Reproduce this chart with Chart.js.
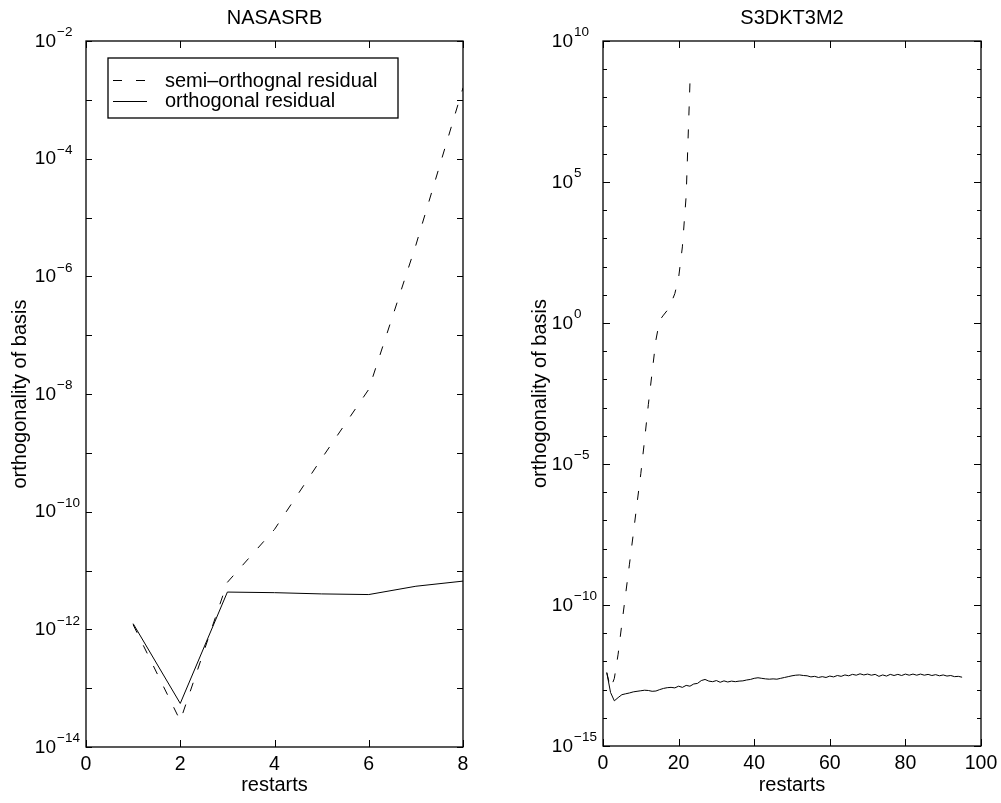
<!DOCTYPE html>
<html><head><meta charset="utf-8">
<script src="https://cdn.jsdelivr.net/npm/chart.js@4.4.0/dist/chart.umd.min.js"></script>
<style>
html,body{margin:0;padding:0;background:#fff;}
#wrap{position:relative;width:1001px;height:803px;overflow:hidden;background:#fff;}
canvas{position:absolute;top:0;}
#c1{left:0;} #c2{left:500px;}
</style></head><body>
<div id="wrap"><canvas id="c1" width="500" height="803"></canvas><canvas id="c2" width="501" height="803"></canvas></div>
<script>
const FONT = "'Liberation Sans', Arial, Helvetica, sans-serif";

// ---- texts ----
const leftTitle = 'NASASRB';
const rightTitle = 'S3DKT3M2';
const seriesNames = ['semi\u2013orthognal residual', 'orthogonal residual'];
const xTitle = 'restarts';
const yTitle = 'orthogonality of basis';

// ---- left panel data ----
const leftX = [1, 2, 3, 4, 5, 6, 7, 8];
const leftSemi = [1.2e-12, 2.8e-14, 6.3e-12, 5.0e-11, 8.0e-10, 1.2e-8, 3.4e-6, 1.6e-3];
const leftOrth = [1.25e-12, 5.5e-14, 4.3e-12, 4.2e-12, 4.0e-12, 3.9e-12, 5.4e-12, 6.6e-12];

// ---- right panel data ----
const rightSemiX = [1,2,3,4,5,6,7,8,9,10,11,12,13,14,15,16,17,18,19,20,21,22,23];
const rightSemi = [4.0e-13, 1.1e-13, 2.5e-13, 1.8e-12, 2.2e-11, 2.5e-10, 2.8e-9, 3.2e-8, 4.0e-7, 4.5e-6,
  7.1e-5, 1.3e-3, 1.8e-2, 2.5e-1, 1.26, 1.9, 2.8, 5.0, 11, 40, 5.0e2, 3.2e4, 3.2e8];
const rightOrthX = [1,2,3,4,5,6,7,8,9,10,11,12,13,14,15,16,17,18,19,20,
  21,22,23,24,25,26,27,28,29,30,31,32,33,34,35,36,37,38,39,40,
  41,42,43,44,45,46,47,48,49,50,51,52,53,54,55,56,57,58,59,60,
  61,62,63,64,65,66,67,68,69,70,71,72,73,74,75,76,77,78,79,80,
  81,82,83,84,85,86,87,88,89,90,91,92,93,94,95];
const rightOrth = [4.0e-13, 7.9e-14, 4.0e-14, 5.2e-14, 6.6e-14, 7.1e-14, 7.6e-14, 8.3e-14, 8.7e-14, 9.1e-14,
  9.5e-14, 9.3e-14, 8.7e-14, 8.9e-14, 1.0e-13, 1.10e-13, 1.17e-13, 1.20e-13, 1.15e-13, 1.32e-13,
  1.20e-13, 1.41e-13, 1.32e-13, 1.58e-13, 1.66e-13, 2.09e-13, 2.29e-13, 2.0e-13, 1.91e-13, 2.09e-13,
  1.82e-13, 2.04e-13, 1.86e-13, 2.0e-13, 1.91e-13, 2.0e-13, 2.04e-13, 2.19e-13, 2.29e-13, 2.51e-13,
  2.63e-13, 2.51e-13, 2.40e-13, 2.34e-13, 2.40e-13, 2.34e-13, 2.51e-13, 2.69e-13, 2.88e-13, 3.09e-13,
  3.24e-13, 3.31e-13, 3.16e-13, 3.09e-13, 2.82e-13, 2.95e-13, 2.69e-13, 2.88e-13, 2.69e-13, 3.02e-13,
  2.82e-13, 3.16e-13, 2.95e-13, 3.31e-13, 3.09e-13, 3.47e-13, 3.24e-13, 3.63e-13, 3.31e-13, 3.55e-13,
  3.24e-13, 3.47e-13, 2.95e-13, 3.31e-13, 3.02e-13, 3.47e-13, 3.16e-13, 3.47e-13, 3.16e-13, 3.55e-13,
  3.24e-13, 3.55e-13, 3.24e-13, 3.55e-13, 3.24e-13, 3.47e-13, 3.16e-13, 3.39e-13, 3.09e-13, 3.31e-13,
  3.02e-13, 3.16e-13, 2.88e-13, 2.95e-13, 2.75e-13];

// ---- ticks ----
const leftXTicks = [0, 2, 4, 6, 8];
const rightXTicks = [0, 20, 40, 60, 80, 100];
const leftYDecades = [-14, -13, -12, -11, -10, -9, -8, -7, -6, -5, -4, -3, -2];
const leftYLabelExps = [-14, -12, -10, -8, -6, -4, -2];
const rightYDecades = [-15,-14,-13,-12,-11,-10,-9,-8,-7,-6,-5,-4,-3,-2,-1,0,1,2,3,4,5,6,7,8,9,10];
const rightYLabelExps = [-15, -10, -5, 0, 5, 10];

function framePlugin(o) {
  return {
    id: 'frame',
    afterDraw(chart) {
      const ctx = chart.ctx, a = chart.chartArea, x = chart.scales.x, y = chart.scales.y;
      ctx.save();
      ctx.strokeStyle = '#000';
      ctx.lineWidth = 1.3;
      ctx.setLineDash([]);
      ctx.strokeRect(a.left, a.top, a.right - a.left, a.bottom - a.top);
      ctx.lineWidth = 1;
      ctx.beginPath();
      o.xTicks.forEach(v => {
        const px = Math.round(x.getPixelForValue(v)) + 0.5;
        ctx.moveTo(px, a.bottom); ctx.lineTo(px, a.bottom - 7);
        ctx.moveTo(px, a.top); ctx.lineTo(px, a.top + 7);
      });
      o.yDecades.forEach(e => {
        const py = Math.round(y.getPixelForValue(Math.pow(10, e))) + 0.5;
        const len = o.yLabelExps.includes(e) ? o.majorLen : o.minorLen;
        ctx.moveTo(a.left, py); ctx.lineTo(a.left + len, py);
        ctx.moveTo(a.right, py); ctx.lineTo(a.right - len, py);
      });
      ctx.stroke();
      ctx.fillStyle = '#000';
      o.yLabelExps.forEach(e => {
        const py = y.getPixelForValue(Math.pow(10, e));
        ctx.font = '19px ' + FONT;
        ctx.textAlign = 'right'; ctx.textBaseline = 'middle';
        ctx.fillText('10', a.left - 30, py + 0.5);
        ctx.font = '13.5px ' + FONT;
        ctx.textAlign = 'left';
        ctx.fillText(e < 0 ? '\u2212' + (-e) : String(e), a.left - 29, py - 8.5);
      });
      if (o.legend) {
        const L = o.legend;
        ctx.fillStyle = '#fff';
        ctx.fillRect(L.x, L.y, L.w, L.h);
        ctx.lineWidth = 1.3;
        ctx.strokeRect(L.x, L.y, L.w, L.h);
        ctx.lineWidth = 1;
        chart.data.datasets.forEach((ds, i) => {
          const ry = L.rows[i];
          ctx.setLineDash(ds.borderDash || []);
          ctx.beginPath();
          ctx.moveTo(L.lineX0, Math.round(ry) + 0.5);
          ctx.lineTo(L.lineX1, Math.round(ry) + 0.5);
          ctx.stroke();
          ctx.setLineDash([]);
          ctx.fillStyle = '#000';
          ctx.font = '20px ' + FONT;
          ctx.textAlign = 'left'; ctx.textBaseline = 'middle';
          ctx.fillText(ds.label, L.textX, ry + 1);
        });
      }
      ctx.restore();
    }
  };
}

function makeChart(el, o) {
  return new Chart(el, {
    type: 'line',
    data: {
      datasets: [
        { label: seriesNames[0], data: o.semiX.map((v, i) => ({ x: v, y: o.semi[i] })),
          borderColor: '#000', borderWidth: 1, borderDash: [9, 14], pointRadius: 0, fill: false, tension: 0,
          xAxisID: 'x', yAxisID: 'y' },
        { label: seriesNames[1], data: o.orthX.map((v, i) => ({ x: v, y: o.orth[i] })),
          borderColor: '#000', borderWidth: 1, pointRadius: 0, fill: false, tension: 0,
          xAxisID: 'x', yAxisID: 'y' }
      ]
    },
    options: {
      responsive: false, animation: false, events: [],
      layout: { padding: { left: 0, right: o.padRight, top: 0, bottom: 0 } },
      plugins: { legend: { display: false }, title: { display: false }, tooltip: { enabled: false } },
      scales: {
        x: {
          type: 'linear', position: 'bottom', min: o.xMin, max: o.xMax,
          afterBuildTicks: s => { s.ticks = o.xTicks.map(v => ({ value: v })); },
          ticks: { font: { family: FONT, size: 19.5 }, color: '#000', padding: -2, maxRotation: 0, autoSkip: false },
          grid: { display: false }, border: { display: false },
          title: { display: true, text: xTitle, color: '#000', font: { family: FONT, size: 20 }, padding: { top: 0, bottom: 5.5 } },
          afterFit: s => { s.height = o.bottomH; }
        },
        x2: {
          type: 'linear', position: 'top', min: o.xMin, max: o.xMax,
          ticks: { display: false }, grid: { display: false }, border: { display: false },
          title: { display: true, text: o.title, color: '#000', font: { family: FONT, size: 20 }, padding: { top: 6.2, bottom: 0 } },
          afterFit: s => { s.height = 41; }
        },
        y: {
          type: 'logarithmic', position: 'left', min: o.yMin, max: o.yMax,
          ticks: { display: false }, grid: { display: false }, border: { display: false },
          title: { display: true, text: yTitle, color: '#000', font: { family: FONT, size: 20 }, padding: { top: o.yTitlePad, bottom: 0 } },
          afterFit: s => { s.width = o.leftW; }
        }
      }
    },
    plugins: [framePlugin(o)]
  });
}

makeChart(document.getElementById('c1'), {
  title: leftTitle, semiX: leftX, semi: leftSemi, orthX: leftX, orth: leftOrth,
  xMin: 0, xMax: 8, yMin: 1e-14, yMax: 1e-2, xTicks: leftXTicks,
  yDecades: leftYDecades, yLabelExps: leftYLabelExps, majorLen: 6, minorLen: 6,
  padRight: 37, leftW: 86, bottomH: 56, yTitlePad: 8,
  legend: { x: 108, y: 58, w: 290, h: 60, rows: [80, 100.5], lineX0: 113, lineX1: 147, textX: 165 }
});

makeChart(document.getElementById('c2'), {
  title: rightTitle, semiX: rightSemiX, semi: rightSemi, orthX: rightOrthX, orth: rightOrth,
  xMin: 0, xMax: 100, yMin: 1e-15, yMax: 1e10, xTicks: rightXTicks,
  yDecades: rightYDecades, yLabelExps: rightYLabelExps, majorLen: 7, minorLen: 4,
  padRight: 20, leftW: 103, bottomH: 57, yTitlePad: 28,
  legend: null
});
</script>
</body></html>
